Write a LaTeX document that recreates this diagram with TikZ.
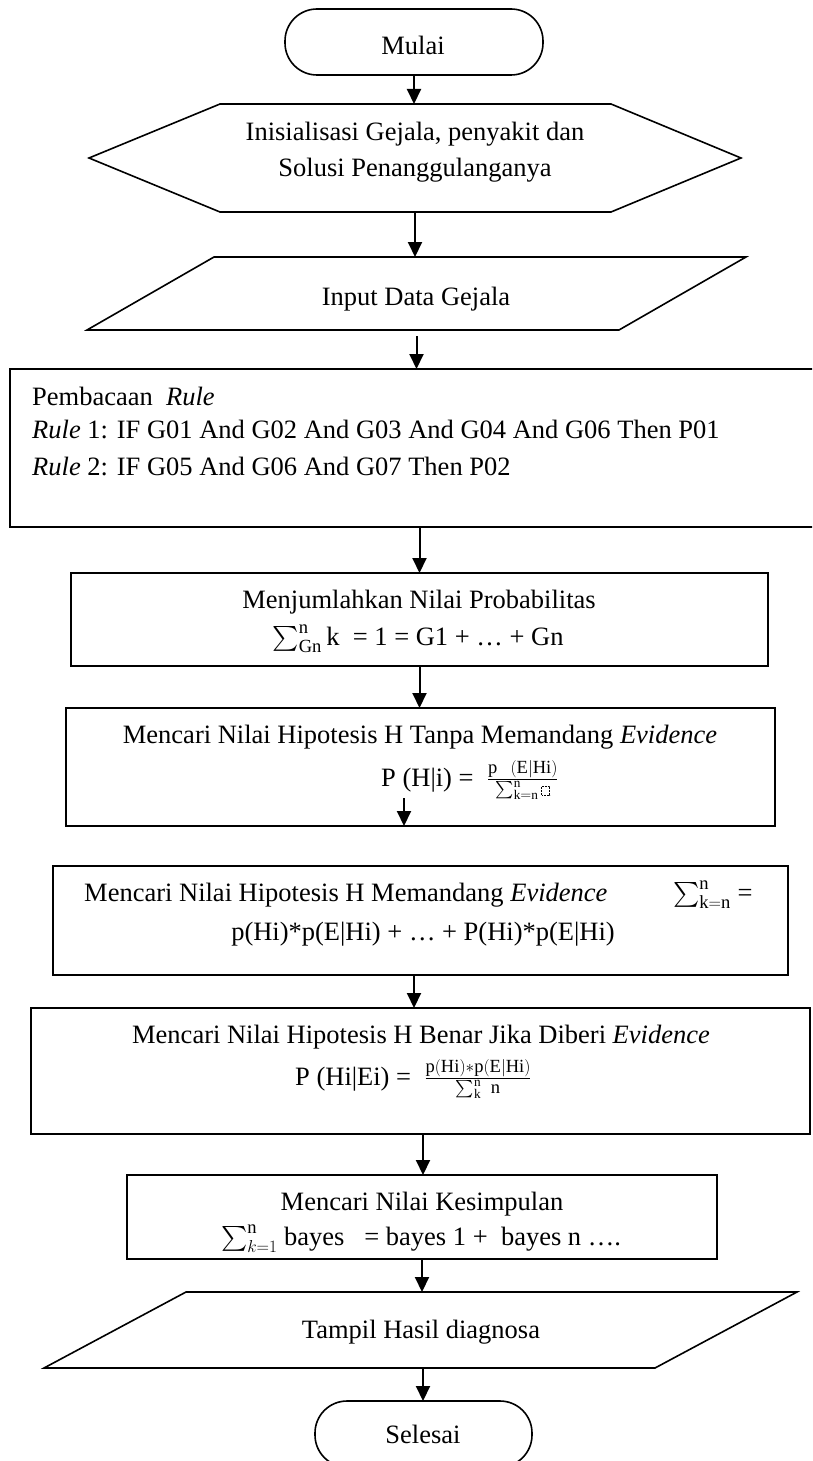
\documentclass[tikz,border=0pt]{standalone}
\usepackage{exscale}
\usepackage{fontspec}
\setmainfont{Liberation Serif}
\usetikzlibrary{arrows.meta,calc}
\newcommand\phbox{\tikz[baseline=0pt,x=1pt,y=1pt]\draw[densely dotted,line width=0.5pt] (0,0) rectangle (8,9);}
\begin{document}
\begin{tikzpicture}[x=1pt,y=-1pt,
  every node/.style={font=\fontsize{26.5pt}{32pt}\selectfont},
  shapebox/.style={inner sep=0pt, outer sep=0pt},
  procbox/.style={draw, line width=1.6pt, inner sep=0pt, outer sep=0pt},
  termbox/.style={draw, line width=1.6pt, inner sep=0pt, outer sep=0pt, rounded corners=32pt, minimum height=66pt},
  shapeline/.style={line width=1.6pt, line join=miter},
  arr/.style={line width=2pt, -{Triangle[width=14pt,length=15pt]}},
  txt/.style={inner sep=0pt, anchor=base}]
\useasboundingbox (0,0) rectangle (812,1461);
\clip (0,0) rectangle (812,1461);

% shapes
\node[termbox, minimum width=258pt] (start) at (414,42) {};
\node[shapebox, minimum width=652pt, minimum height=108pt] (hex) at (415,158) {};
\draw[shapeline] (hex.west) -- ([xshift=131pt]hex.north west) -- ([xshift=-130pt]hex.north east)
  -- (hex.east) -- ([xshift=-130pt]hex.south east) -- ([xshift=131pt]hex.south west) -- cycle;
\node[shapebox, minimum width=659pt, minimum height=73pt] (inp) at (416.5,293.5) {};
\draw[shapeline] ([xshift=127pt]inp.north west) -- (inp.north east) -- ([xshift=-127pt]inp.south east)
  -- (inp.south west) -- cycle;
\node[procbox, minimum width=820pt, minimum height=158pt] (rule) at (420,448) {};
\node[procbox, minimum width=697pt, minimum height=93pt] (sum) at (419.5,619.5) {};
\node[procbox, minimum width=709pt, minimum height=118pt] (tanpa) at (420.5,767) {};
\node[procbox, minimum width=735pt, minimum height=109pt] (mem) at (420.5,920.5) {};
\node[procbox, minimum width=779pt, minimum height=126pt] (benar) at (420.5,1071) {};
\node[procbox, minimum width=590pt, minimum height=84pt] (kes) at (422,1217) {};
\node[shapebox, minimum width=753pt, minimum height=76pt] (out) at (420.5,1330) {};
\draw[shapeline] ([xshift=142pt]out.north west) -- (out.north east) -- ([xshift=-142pt]out.south east)
  -- (out.south west) -- cycle;
\node[termbox, minimum width=217pt] (end) at (423.5,1434) {};

% texts
\node[txt] (t0) at (413,55) {Mulai};
\node[txt] (t1a) at (415,140) {Inisialisasi Gejala, penyakit dan};
\node[txt] (t1b) at (415,176) {Solusi Penanggulanganya};
\node[txt] (t2) at (416,305) {Input Data Gejala};
\node[txt, anchor=base west] (t3a) at (32,405) {Pembacaan\ \ \textit{Rule}};
\node[txt, anchor=base west] (t3b) at (32,438) {\textit{Rule} 1: IF G01 And G02 And G03 And G04 And G06 Then P01};
\node[txt, anchor=base west] (t3c) at (32,475) {\textit{Rule} 2: IF G05 And G06 And G07 Then P02};
\node[txt] (t4a) at (419,608) {Menjumlahkan Nilai Probabilitas};
\node[txt] (t4b) at (418,645) {$\sum\nolimits_{\mathrm{Gn}}^{\mathrm{n}}$\,k\ \ = 1 = G1 + … + Gn};
\node[txt] (t5a) at (420,743) {Mencari Nilai Hipotesis H Tanpa Memandang \textit{Evidence}};
\node[txt, anchor=base west] (t5b) at (381,786) {P (H|i) =\ \ $\frac{\mathrm{p\ \ (E|Hi)}}{\sum_{\mathrm{k=n}}^{\mathrm{n}}\phbox}$};
\node[txt, anchor=base west] (t6a) at (84,901) {Mencari Nilai Hipotesis H Memandang \textit{Evidence}};
\node[txt, anchor=base west] (t6b) at (673,901) {$\sum\nolimits_{\mathrm{k=n}}^{\mathrm{n}}$ =};
\node[txt] (t6c) at (423,940) {p(Hi)*p(E|Hi) + … + P(Hi)*p(E|Hi)};
\node[txt] (t7a) at (421,1043) {Mencari Nilai Hipotesis H Benar Jika Diberi \textit{Evidence}};
\node[txt, anchor=base west] (t7b) at (295,1085) {P (Hi|Ei) =\ \ $\frac{\mathrm{p(Hi)}*\mathrm{p(E|Hi)}}{\sum_{\mathrm{k}}^{\mathrm{n}}\ \mathrm{n}}$};
\node[txt] (t8a) at (422,1210) {Mencari Nilai Kesimpulan};
\node[txt] (t8b) at (421,1245) {$\sum\nolimits_{k=1}^{\mathrm{n}}$ bayes\ \ \ = bayes 1 +\ \ bayes n ….};
\node[txt] (t9) at (421,1338) {Tampil Hasil diagnosa};
\node[txt] (t10) at (423,1443) {Selesai};

% connectors
\draw[arr] (start.south) -- (start.south |- hex.north);
\draw[arr] (hex.south) -- (hex.south |- inp.north);
\draw[arr] ([yshift=-6pt]inp.south) -- (inp.south |- rule.north);
\draw[arr] (rule.south -| sum.north) -- (sum.north);
\draw[arr] (sum.south) -- (sum.south |- tanpa.north);
\coordinate (a6s) at (404,798);
\draw[arr] (a6s) -- (a6s |- tanpa.south);
\coordinate (a7s) at (414,975);
\draw[arr] (a7s) -- (a7s |- benar.north);
\draw[arr] ([xshift=2.5pt]benar.south) -- ([xshift=2.5pt]benar.south |- kes.north);
\draw[arr] (kes.south) -- (kes.south |- out.north);
\draw[arr] ([xshift=2.5pt]out.south) -- ([xshift=2.5pt]out.south |- end.north);
\end{tikzpicture}
\end{document}
